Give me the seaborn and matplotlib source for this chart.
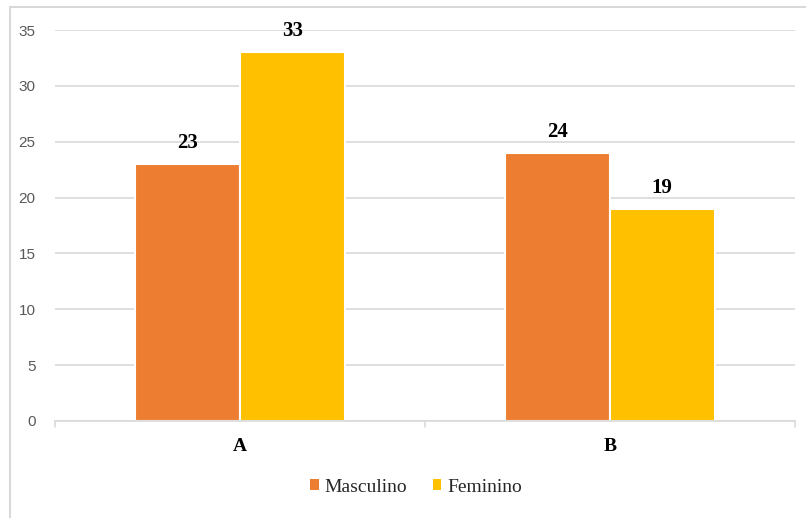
import matplotlib
matplotlib.use("Agg")
import matplotlib.pyplot as plt
import seaborn as sns
import pandas as pd
from matplotlib.lines import Line2D

categories = ["A", "B"]
series_names = ["Masculino", "Feminino"]
masculino = [23, 24]
feminino = [33, 19]
yticks = [0, 5, 10, 15, 20, 25, 30, 35]
colors = ["#ED7D31", "#FFC000"]

df = pd.DataFrame({
    "cat": categories * 2,
    "serie": [series_names[0]] * 2 + [series_names[1]] * 2,
    "valor": masculino + feminino,
})

sns.set_theme(style="white")
W, H = 806, 518
fig = plt.figure(figsize=(W / 100, H / 100), dpi=100)
ax = fig.add_axes([55 / W, 1 - 421 / H, (795 - 55) / W, (421 - 30) / H])

sns.barplot(data=df, x="cat", y="valor", hue="serie", hue_order=series_names,
            palette=colors, width=0.565, gap=0.0, edgecolor="white",
            linewidth=1.5, ax=ax, legend=True, saturation=1, errorbar=None)

ax.set_ylim(0, 35)
ax.set_xlim(-0.5, 1.5)
ax.set_yticks(yticks)
ax.set_yticklabels([str(t) for t in yticks], fontsize=11, color="#595959",
                   fontfamily="Liberation Sans")
ax.yaxis.grid(True, color="#D9D9D9", linewidth=1.2)
ax.set_axisbelow(True)
ax.set_xlabel("")
ax.set_ylabel("")
for lab in ax.get_xticklabels():
    lab.set_fontfamily("Liberation Serif")
    lab.set_fontweight("bold")
    lab.set_fontsize(14)
    lab.set_color("black")
for s in ["top", "right", "left"]:
    ax.spines[s].set_visible(False)
ax.spines["bottom"].set_color("#D9D9D9")
ax.spines["bottom"].set_linewidth(1.2)
ax.tick_params(axis="y", length=0, pad=14)
ax.tick_params(axis="x", length=0, pad=12)
# category separators
for xv in [-0.5, 0.5, 1.5]:
    ax.plot([xv, xv], [0, -0.5], color="#D9D9D9", lw=1.2, clip_on=False)

for cont in ax.containers:
    ax.bar_label(cont, fmt="%d", padding=8, fontsize=15, fontweight="bold",
                 fontfamily="Liberation Serif", color="black")

leg = ax.legend(loc="center", bbox_to_anchor=(0.488, (421 - 487) / (421 - 30)),
                ncol=2, frameon=False, handlelength=0.45, handleheight=0.45,
                handletextpad=0.3, columnspacing=1.3,
                prop={"family": "Liberation Serif", "size": 14})
for h in leg.legend_handles:
    h.set_edgecolor("none")

fig.add_artist(Line2D([10 / W, 10 / W], [0, 1 - 7 / H], color="#D9D9D9", lw=1.5))
fig.add_artist(Line2D([10 / W, 1], [1 - 7 / H, 1 - 7 / H], color="#D9D9D9", lw=1.5))

fig.savefig("out.png", dpi=100)
